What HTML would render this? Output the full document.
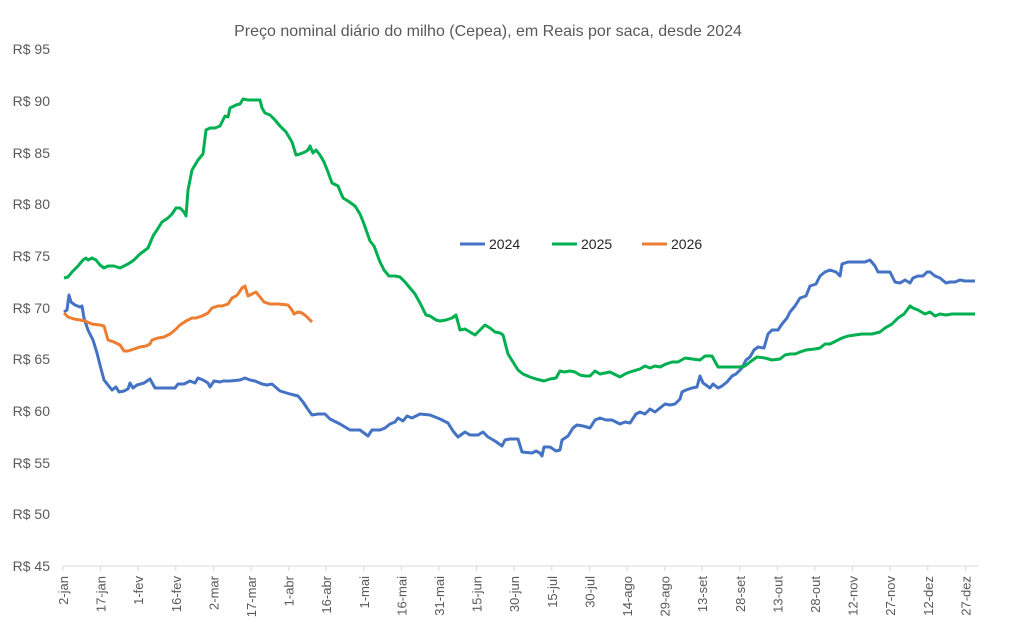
<!DOCTYPE html>
<html><head><meta charset="utf-8"><style>
body{margin:0;background:#fff;}
svg text{font-family:"Liberation Sans",sans-serif;fill:#595959;}
</style></head><body>
<svg width="1011" height="629" xmlns="http://www.w3.org/2000/svg">
<text x="488" y="36" font-size="16" text-anchor="middle">Preço nominal diário do milho (Cepea), em Reais por saca, desde 2024</text>
<g font-size="14" text-anchor="end">
<text x="50" y="54">R$ 95</text><text x="50" y="106">R$ 90</text><text x="50" y="158">R$ 85</text><text x="50" y="209">R$ 80</text><text x="50" y="261">R$ 75</text><text x="50" y="313">R$ 70</text><text x="50" y="364">R$ 65</text><text x="50" y="416">R$ 60</text><text x="50" y="468">R$ 55</text><text x="50" y="519">R$ 50</text><text x="50" y="571">R$ 45</text>
</g>
<line x1="63" y1="566" x2="978" y2="566" stroke="#d9d9d9" stroke-width="1"/>
<g stroke="#d9d9d9">
<line x1="63" y1="566" x2="63" y2="571"/><line x1="100.6" y1="566" x2="100.6" y2="571"/><line x1="138.2" y1="566" x2="138.2" y2="571"/><line x1="175.8" y1="566" x2="175.8" y2="571"/><line x1="213.4" y1="566" x2="213.4" y2="571"/><line x1="251" y1="566" x2="251" y2="571"/><line x1="288.6" y1="566" x2="288.6" y2="571"/><line x1="326.2" y1="566" x2="326.2" y2="571"/><line x1="363.8" y1="566" x2="363.8" y2="571"/><line x1="401.4" y1="566" x2="401.4" y2="571"/><line x1="439" y1="566" x2="439" y2="571"/><line x1="476.6" y1="566" x2="476.6" y2="571"/><line x1="514.2" y1="566" x2="514.2" y2="571"/><line x1="551.8" y1="566" x2="551.8" y2="571"/><line x1="589.4" y1="566" x2="589.4" y2="571"/><line x1="627" y1="566" x2="627" y2="571"/><line x1="664.6" y1="566" x2="664.6" y2="571"/><line x1="702.2" y1="566" x2="702.2" y2="571"/><line x1="739.8" y1="566" x2="739.8" y2="571"/><line x1="777.4" y1="566" x2="777.4" y2="571"/><line x1="815" y1="566" x2="815" y2="571"/><line x1="852.6" y1="566" x2="852.6" y2="571"/><line x1="890.2" y1="566" x2="890.2" y2="571"/><line x1="927.8" y1="566" x2="927.8" y2="571"/><line x1="965.4" y1="566" x2="965.4" y2="571"/>
</g>
<g font-size="13" text-anchor="end">
<text transform="translate(68,576) rotate(-90)">2-jan</text>
<text transform="translate(105.6,576) rotate(-90)">17-jan</text>
<text transform="translate(143.2,576) rotate(-90)">1-fev</text>
<text transform="translate(180.8,576) rotate(-90)">16-fev</text>
<text transform="translate(218.4,576) rotate(-90)">2-mar</text>
<text transform="translate(256,576) rotate(-90)">17-mar</text>
<text transform="translate(293.6,576) rotate(-90)">1-abr</text>
<text transform="translate(331.2,576) rotate(-90)">16-abr</text>
<text transform="translate(368.8,576) rotate(-90)">1-mai</text>
<text transform="translate(406.4,576) rotate(-90)">16-mai</text>
<text transform="translate(444,576) rotate(-90)">31-mai</text>
<text transform="translate(481.6,576) rotate(-90)">15-jun</text>
<text transform="translate(519.2,576) rotate(-90)">30-jun</text>
<text transform="translate(556.8,576) rotate(-90)">15-jul</text>
<text transform="translate(594.4,576) rotate(-90)">30-jul</text>
<text transform="translate(632,576) rotate(-90)">14-ago</text>
<text transform="translate(669.6,576) rotate(-90)">29-ago</text>
<text transform="translate(707.2,576) rotate(-90)">13-set</text>
<text transform="translate(744.8,576) rotate(-90)">28-set</text>
<text transform="translate(782.4,576) rotate(-90)">13-out</text>
<text transform="translate(820,576) rotate(-90)">28-out</text>
<text transform="translate(857.6,576) rotate(-90)">12-nov</text>
<text transform="translate(895.2,576) rotate(-90)">27-nov</text>
<text transform="translate(932.8,576) rotate(-90)">12-dez</text>
<text transform="translate(970.4,576) rotate(-90)">27-dez</text>
</g>
<polyline fill="none" stroke="#4472c4" stroke-width="3" stroke-linejoin="round" points="64,312 67,310 69,295 71,302 75,305 80,307 82,306 84,318 88,330 93,340 97,353 100,365 104,380 108,385 112,390 116,387 119,392 124,391 128,389 130,383 133,388 137,385 144,383 150,379 155,388 165,388 175,388 178,384 184,384 190,381 195,383 198,378 203,380 208,383 210,387 214,381 220,382 223,381 230,381 240,380 245,378 250,380 255,381 262,384 267,385 272,384 280,391 290,394 298,396 303,402 307,408 312,415 318,414 325,414 330,419 340,424 350,430 360,430 368,436 372,430 380,430 385,428 390,424 395,422 398,418 403,421 407,416 412,418 420,414 430,415 440,419 448,423 453,431 458,437 465,432 470,435 478,435 483,432 488,437 495,441 502,446 505,440 510,439 518,439 522,452 532,453 536,451 540,453 542,456 544,447 550,447 556,451 560,450 562,440 568,436 573,428 577,425 583,426 590,428 595,420 600,418 606,420 612,420 620,424 625,422 630,423 632,420 636,414 640,412 645,414 650,409 655,412 660,408 665,404 670,405 675,404 680,399 682,392 686,390 692,388 697,387 700,376 703,383 706,385 710,388 713,384 718,388 722,386 727,382 732,376 736,374 742,368 746,360 750,357 754,350 758,347 764,348 768,334 772,330 778,330 782,324 787,318 790,312 795,306 800,298 806,296 810,286 816,284 820,276 825,272 830,270 836,272 840,276 842,264 848,262 855,262 860,262 865,262 870,260 875,266 878,272 885,272 890,272 895,282 900,283 905,280 910,283 913,278 918,276 923,276 927,272 930,272 935,276 940,278 946,283 950,282 955,282 960,280 965,281 970,281 975,281"/>
<polyline fill="none" stroke="#00b050" stroke-width="3" stroke-linejoin="round" points="64,278 68,277 72,272 78,266 83,260 86,258 88,260 92,258 96,260 100,265 104,268 108,266 114,266 120,268 128,264 134,260 140,254 148,248 153,236 157,230 162,222 168,218 172,214 176,208 180,208 184,212 186,216 188,190 192,170 198,160 203,154 206,130 210,128 215,128 220,126 225,116 228,117 230,108 236,105 240,104 243,99 248,100 256,100 260,100 262,108 265,113 270,115 275,120 280,126 286,132 292,142 296,155 300,154 305,152 308,150 310,146 313,153 316,150 320,155 324,162 328,172 332,183 338,186 343,198 348,201 355,206 360,214 364,224 370,241 374,246 380,262 384,270 389,276 395,276 400,277 405,282 410,288 415,294 420,303 426,315 430,316 436,320 440,321 446,320 452,318 456,315 460,330 465,329 470,332 475,335 480,330 485,325 490,328 495,332 500,333 503,335 508,354 513,362 518,370 523,374 530,377 536,379 544,381 550,379 556,378 560,371 564,372 570,371 575,372 580,375 585,376 590,376 595,371 600,374 610,372 620,377 625,374 630,372 640,369 645,366 650,368 655,366 660,367 666,364 672,362 678,362 685,358 692,359 700,360 705,356 712,356 718,367 724,367 730,367 740,367 745,366 750,362 757,357 765,358 772,360 780,359 785,355 790,354 795,354 800,352 806,350 815,349 820,348 825,344 830,344 836,341 842,338 848,336 855,335 862,334 872,334 880,332 885,328 892,324 898,318 904,314 910,306 913,308 918,310 925,314 930,312 935,316 940,314 946,315 952,314 960,314 970,314 975,314"/>
<polyline fill="none" stroke="#ed7d31" stroke-width="3" stroke-linejoin="round" points="64,313 68,317 74,319 80,320 85,321 92,324 100,325 104,326 108,340 114,342 120,345 124,351 128,351 134,349 140,347 146,346 150,344 152,340 158,338 164,337 170,334 175,330 180,325 186,321 192,318 196,318 202,316 208,313 212,308 218,306 222,306 228,304 232,298 236,296 238,294 242,288 245,286 248,296 252,294 256,292 260,297 264,302 270,304 278,304 288,305 292,310 294,314 298,312 302,313 306,316 308,318 312,322"/>
<g font-size="14">
<line x1="460" y1="244" x2="485" y2="244" stroke="#4472c4" stroke-width="3"/><text x="489" y="249" style="fill:#262626">2024</text>
<line x1="552" y1="244" x2="577" y2="244" stroke="#00b050" stroke-width="3"/><text x="581" y="249" style="fill:#262626">2025</text>
<line x1="642" y1="244" x2="667" y2="244" stroke="#ed7d31" stroke-width="3"/><text x="671" y="249" style="fill:#262626">2026</text>
</g>
</svg>
</body></html>
